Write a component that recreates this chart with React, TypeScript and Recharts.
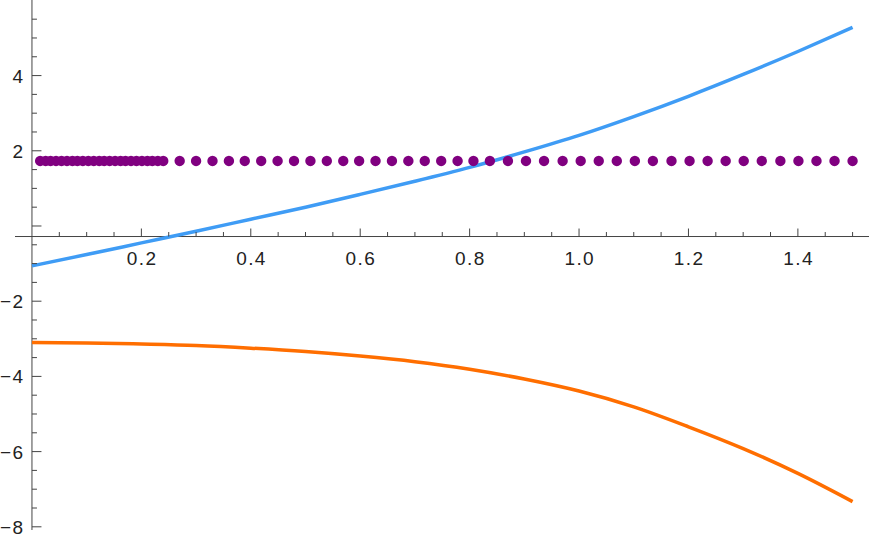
import React from "react";
import {
  ComposedChart,
  Line,
  Scatter,
  XAxis,
  YAxis,
  ReferenceLine,
} from "recharts";

// sample positions and curve values
const xs = [0, 0.1, 0.2, 0.3, 0.4, 0.5, 0.6, 0.7, 0.8, 0.9, 1.0, 1.1, 1.2, 1.3, 1.4, 1.5];
const blueVals = [-1.06, -0.76, -0.45, -0.14, 0.18, 0.5, 0.84, 1.19, 1.56, 1.97, 2.41, 2.91, 3.45, 4.03, 4.64, 5.28];
const orangeVals = [-3.1, -3.11, -3.14, -3.18, -3.25, -3.34, -3.46, -3.61, -3.81, -4.07, -4.39, -4.81, -5.34, -5.92, -6.58, -7.33];

// purple points: dense run near the origin, then two evenly spaced runs
const dotXs = [
  0.015, 0.025, 0.034, 0.044, 0.054, 0.064, 0.074, 0.083, 0.093, 0.103, 0.113, 0.123,
  0.132, 0.142, 0.152, 0.162, 0.171, 0.181, 0.191, 0.201, 0.211, 0.22, 0.23, 0.24,
  0.27, 0.3, 0.33, 0.36, 0.389, 0.419, 0.449, 0.479, 0.509, 0.539, 0.569, 0.598,
  0.628, 0.658, 0.688, 0.718, 0.748, 0.778, 0.807, 0.837,
  0.87, 0.903, 0.936, 0.97, 1.003, 1.036, 1.069, 1.102, 1.135, 1.169, 1.202, 1.235,
  1.268, 1.301, 1.334, 1.368, 1.401, 1.434, 1.467, 1.5,
];
const DOT_LEVEL = 1.73;

const xTicks = [
  0.05, 0.1, 0.15, 0.2, 0.25, 0.3, 0.35, 0.4, 0.45, 0.5, 0.55, 0.6, 0.65, 0.7, 0.75,
  0.8, 0.85, 0.9, 0.95, 1.0, 1.05, 1.1, 1.15, 1.2, 1.25, 1.3, 1.35, 1.4, 1.45, 1.5,
];
const yTicks = [
  -8, -7.5, -7, -6.5, -6, -5.5, -5, -4.5, -4, -3.5, -3, -2.5, -2, -1.5, -1, -0.5, 0,
  0.5, 1, 1.5, 2, 2.5, 3, 3.5, 4, 4.5, 5, 5.5,
];

const W = 872;
const H = 537;
const X_MIN = -0.031;
const X_MAX = 1.53;
const Y_MIN = -8.085;
const Y_MAX = 6.01;
const Y_CROSS = -0.28; // the horizontal axis sits a bit below zero
const Y_AXIS_W = 15;
const X_AXIS_H = 7;
const RIGHT = 3;
const PLOT_W = W - Y_AXIS_W - RIGHT;
const PLOT_H = H - X_AXIS_H;

const AXIS = "#444";
const LABEL = "#222";
const FONT = "'Liberation Sans', Arial, sans-serif";

const isMult = (v: number, step: number) => Math.abs(v / step - Math.round(v / step)) < 1e-6;
const fmtY = (v: number) => (v < 0 ? `\u2212${Math.abs(v)}` : `${v}`);

function XTick(props: any) {
  const { x, y, payload } = props;
  const v = payload.value as number;
  const cy = y - ((Y_CROSS - Y_MIN) / (Y_MAX - Y_MIN)) * PLOT_H;
  const major = isMult(v, 0.2);
  return (
    <g>
      <line x1={x} x2={x} y1={cy} y2={cy - (major ? 8 : 4.5)} stroke={AXIS} strokeWidth={1} />
      {major && (
        <text
          x={x + 0.7}
          y={cy + 28}
          textAnchor="middle"
          fontSize={19}
          letterSpacing={1.4}
          fill={LABEL}
          fontFamily={FONT}
        >
          {v.toFixed(1)}
        </text>
      )}
    </g>
  );
}

function YTick(props: any) {
  const { x, y, payload } = props;
  const v = payload.value as number;
  const cx = x + ((0 - X_MIN) / (X_MAX - X_MIN)) * PLOT_W;
  const major = isMult(v, 2);
  return (
    <g>
      <line x1={cx} x2={cx + (major ? 9.5 : 5)} y1={y} y2={y} stroke={AXIS} strokeWidth={1} />
      {major && v !== 0 && (
        <text
          x={cx - 7.5}
          y={y + 7}
          textAnchor="end"
          fontSize={19}
          letterSpacing={1.4}
          fill={LABEL}
          fontFamily={FONT}
        >
          {fmtY(v)}
        </text>
      )}
    </g>
  );
}

export default function App() {
  const rows = xs.map((x, i) => ({ x, blue: blueVals[i], orange: orangeVals[i] }));
  const dots = dotXs.map((x) => ({ x, y: DOT_LEVEL }));

  return (
    <div style={{ position: "absolute", left: 0, top: 0, background: "#fff" }}>
      <ComposedChart width={W} height={H} data={rows} margin={{ top: 0, right: RIGHT, bottom: 0, left: 0 }}>
        <XAxis
          type="number"
          dataKey="x"
          domain={[X_MIN, X_MAX]}
          allowDataOverflow
          ticks={xTicks}
          interval={0}
          height={X_AXIS_H}
          axisLine={false}
          tickLine={false}
          tickSize={0}
          tickMargin={0}
          tick={(p: any) => <XTick {...p} />}
        />
        <YAxis
          type="number"
          domain={[Y_MIN, Y_MAX]}
          allowDataOverflow
          ticks={yTicks}
          interval={0}
          width={Y_AXIS_W}
          axisLine={false}
          tickLine={false}
          tickSize={0}
          tickMargin={0}
          tick={(p: any) => <YTick {...p} />}
        />
        <ReferenceLine y={Y_CROSS} stroke={AXIS} strokeWidth={1} />
        <ReferenceLine x={0} stroke={AXIS} strokeWidth={1} />
        <Scatter
          data={dots}
          dataKey="y"
          isAnimationActive={false}
          shape={(p: any) => <circle cx={p.cx} cy={p.cy} r={5.2} fill="#800080" />}
        />
        <Line
          dataKey="blue"
          type="monotone"
          stroke="#3f9cf5"
          strokeWidth={3.5}
          dot={false}
          activeDot={false}
          isAnimationActive={false}
        />
        <Line
          dataKey="orange"
          type="monotone"
          stroke="#ff6e00"
          strokeWidth={3.5}
          dot={false}
          activeDot={false}
          isAnimationActive={false}
        />
      </ComposedChart>
    </div>
  );
}
